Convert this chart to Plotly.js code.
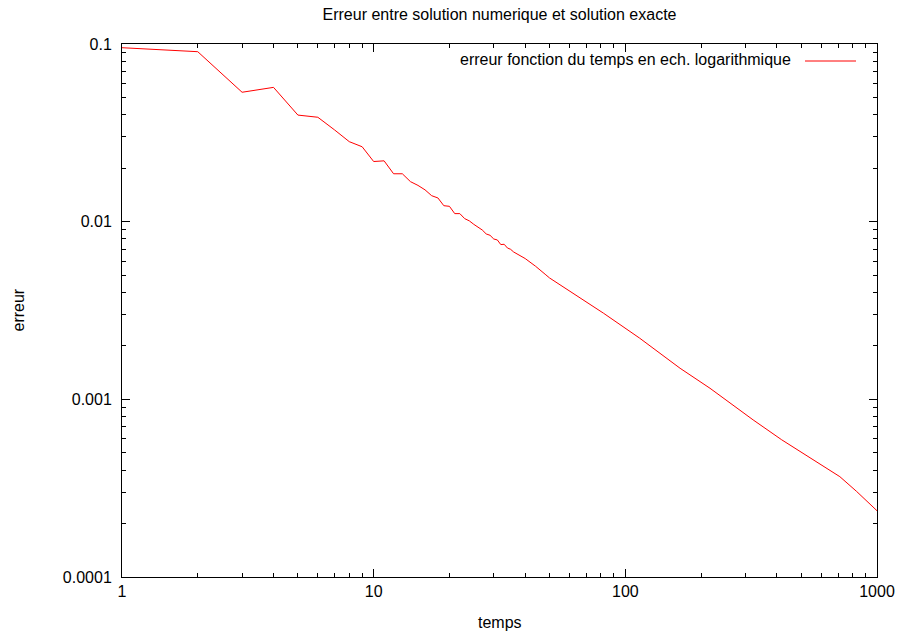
<!DOCTYPE html>
<html>
<head>
<meta charset="utf-8">
<script src="https://cdn.plot.ly/plotly-3.0.1.min.js"></script>
<style>html,body{margin:0;padding:0;background:#fff;}</style>
</head>
<body>
<div id="chart" style="width:901px;height:636px;"></div>
<script>
// Data
const temps = [1,2,3,4,5,6,7,8,9,10,11,12,13,14,15,16,17,18,19,20,
  21,22,23,24,25,26,27,28,29,30,31,32,33,34,35,36,40,44,46,48,50,
  62,82,114,165,217,322,418,631,712,830,1000];
const erreur = [0.0953,0.0905,0.0535,0.0570,0.0398,0.0387,0.0328,0.0282,0.0264,0.0218,
  0.0220,0.0186,0.0186,0.0168,0.0160,0.0151,0.0140,0.0136,0.0123,0.0122,
  0.0111,0.0111,0.0104,0.0101,0.00966,0.00930,0.00898,0.00853,0.00838,0.00799,
  0.00789,0.00743,0.00746,0.00711,0.00699,0.00675,0.00620,0.00561,0.00535,0.00506,0.00482,
  0.00396,0.00305,0.00221,0.001496,0.001154,0.000766,0.000592,0.000409,0.000367,0.000303,0.000236];
const xTickVals = [1,10,100,1000];
const xTickText = ["1","10","100","1000"];
const yTickVals = [0.1,0.01,0.001,0.0001];
const yTickText = ["0.1","0.01","0.001","0.0001"];
const chartTitle = "Erreur entre solution numerique et solution exacte";
const xLabel = "temps";
const yLabel = "erreur";
const seriesName = "erreur fonction du temps en ech. logarithmique";

const font = {family: "Liberation Sans, Arial, sans-serif", size: 16, color: "#000"};
const axisCommon = {
  type: "log",
  showgrid: false,
  zeroline: false,
  showline: true,
  linecolor: "#000",
  linewidth: 1,
  mirror: "allticks",
  ticks: "inside",
  ticklen: 8,
  tickwidth: 1,
  tickcolor: "#000",
  tickmode: "array",
  tickfont: font,
  minor: {ticks: "inside", ticklen: 4, tickwidth: 1, tickcolor: "#000", dtick: "D1", showgrid: false}
};

const trace = {
  x: temps, y: erreur, type: "scatter", mode: "lines",
  name: seriesName,
  line: {color: "#ff0000", width: 1},
  showlegend: false
};

const W = 755, H = 533, L = 122, T = 44;
const layout = {
  width: 901, height: 636,
  margin: {l: L, r: 24, t: T, b: 59},
  paper_bgcolor: "#fff", plot_bgcolor: "#fff",
  font: font,
  title: {text: chartTitle, font: font, x: 0.5, xref: "paper", y: 1 - 14/636, yref: "container", yanchor: "middle"},
  xaxis: Object.assign({}, axisCommon, {
    range: [0, 3], tickvals: xTickVals, ticktext: xTickText
  }),
  yaxis: Object.assign({}, axisCommon, {
    range: [-4, -1], tickvals: yTickVals, ticktext: yTickText,
    ticklabelstandoff: 6
  }),
  showlegend: false,
  annotations: [{
    text: seriesName, xref: "paper", yref: "paper",
    x: (793 - L) / W, y: 1 - (60 - T) / H,
    xanchor: "right", yanchor: "middle", showarrow: false, font: font
  }, {
    text: xLabel, xref: "paper", yref: "paper",
    x: 0.5, y: 1 - (622 - T) / H,
    xanchor: "center", yanchor: "middle", showarrow: false, font: font
  }, {
    text: yLabel, xref: "paper", yref: "paper", textangle: -90,
    x: (18 - L) / W, y: 0.5,
    xanchor: "center", yanchor: "middle", showarrow: false, font: font
  }],
  shapes: [{
    type: "line", xref: "paper", yref: "paper",
    x0: (805 - L) / W, x1: (856 - L) / W,
    y0: 1 - (61 - T) / H, y1: 1 - (61 - T) / H,
    line: {color: "#ff0000", width: 1}
  }]
};

Plotly.newPlot("chart", [trace], layout, {displayModeBar: false, staticPlot: true});
</script>
</body>
</html>
